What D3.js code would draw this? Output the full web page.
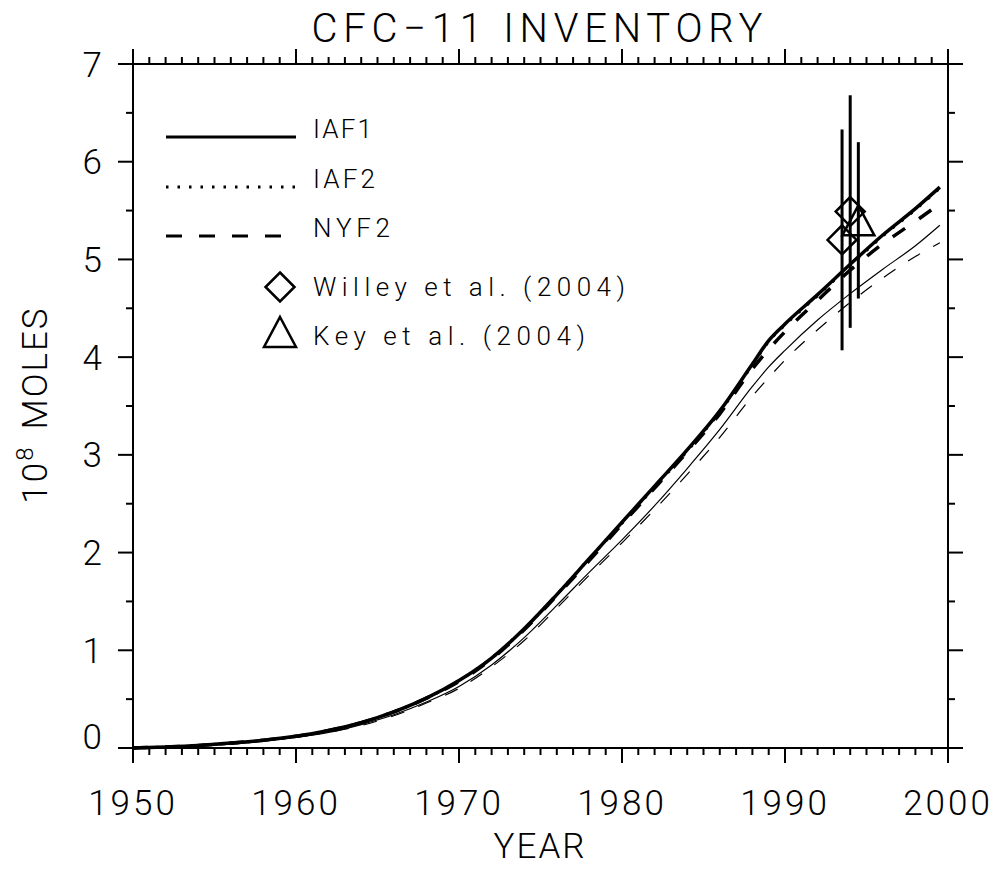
<!DOCTYPE html>
<html>
<head>
<meta charset="utf-8">
<script src="https://cdn.jsdelivr.net/npm/d3@7"></script>
<style>
  body { margin: 0; background: #fff; }
  svg text { font-family: Roboto, "Open Sans", sans-serif; font-weight: 300; fill: #000; }
</style>
</head>
<body>
<div id="vis"></div>
<script>
// model years
var years = [1950, 1952, 1954, 1956, 1958, 1960, 1962, 1964, 1966, 1968, 1970, 1972, 1974,
             1976, 1978, 1980, 1982, 1984, 1986, 1988, 1989, 1990, 1992, 1994, 1996, 1998, 1999.5];

// inventory, 10^8 moles
var iaf1 = [0.00, 0.01, 0.025, 0.05, 0.08, 0.12, 0.18, 0.26, 0.37, 0.51, 0.69, 0.92, 1.22,
            1.57, 1.94, 2.31, 2.68, 3.05, 3.45, 3.93, 4.17, 4.34, 4.64, 4.95, 5.25, 5.52, 5.74];
var iaf2 = [0.00, 0.01, 0.025, 0.05, 0.08, 0.12, 0.18, 0.26, 0.37, 0.51, 0.69, 0.92, 1.22,
            1.57, 1.94, 2.30, 2.67, 3.04, 3.44, 3.92, 4.16, 4.33, 4.63, 4.94, 5.24, 5.51, 5.73];
var nyf2 = [0.00, 0.01, 0.025, 0.05, 0.08, 0.12, 0.18, 0.26, 0.37, 0.51, 0.68, 0.91, 1.21,
            1.56, 1.92, 2.29, 2.66, 3.03, 3.42, 3.88, 4.08, 4.26, 4.58, 4.89, 5.16, 5.39, 5.57];
// thin curves (second set of runs)
var iaf1b = [0.00, 0.01, 0.02, 0.04, 0.07, 0.11, 0.16, 0.24, 0.34, 0.47, 0.63, 0.85, 1.13,
             1.46, 1.80, 2.13, 2.48, 2.86, 3.26, 3.70, 3.90, 4.07, 4.38, 4.65, 4.90, 5.14, 5.35];
var nyf2b = [0.00, 0.01, 0.02, 0.04, 0.07, 0.11, 0.16, 0.23, 0.33, 0.46, 0.61, 0.83, 1.10,
             1.43, 1.77, 2.10, 2.44, 2.80, 3.18, 3.60, 3.79, 3.97, 4.28, 4.56, 4.81, 5.03, 5.17];

// observations
var willeyYears = [1993.5, 1994.0];
var willeyValues = [5.20, 5.49];
var willeyErr = [1.13, 1.19];
var keyYears = [1994.5];
var keyValues = [5.40];
var keyErr = [0.80];

var xTicks = [1950, 1960, 1970, 1980, 1990, 2000];
var yTicks = [0, 1, 2, 3, 4, 5, 6, 7];

var W = 997, H = 869;
var margin = {top: 64, right: 49, bottom: 120, left: 133};

var svg = d3.select('#vis').append('svg')
    .attr('width', W)
    .attr('height', H);

var x = d3.scaleLinear().domain([1950, 2000]).range([margin.left, W - margin.right]);
var y = d3.scaleLinear().domain([0, 7]).range([H - margin.bottom - 1, margin.top]);

var x0 = x.range()[0], x1 = x.range()[1], y0 = y.range()[0], y1 = y.range()[1];

// frame
var axisW = 2;
svg.append('rect')
    .attr('x', x0).attr('y', y1)
    .attr('width', x1 - x0).attr('height', y0 - y1)
    .attr('fill', 'none').attr('stroke', '#000').attr('stroke-width', axisW);

// ticks on all four sides, pointing outward
var majLen = 15, minLen = 7;
var xMinor = d3.range(1950, 2001, 1);
var yMinor = d3.range(0, 7.01, 0.5);
var tk = svg.append('g').attr('stroke', '#000').attr('stroke-width', axisW);

xMinor.forEach(function(v) {
    var len = (v % 10 === 0) ? majLen : minLen;
    tk.append('line').attr('x1', x(v)).attr('x2', x(v)).attr('y1', y0).attr('y2', y0 + len);
    tk.append('line').attr('x1', x(v)).attr('x2', x(v)).attr('y1', y1).attr('y2', y1 - len);
});
yMinor.forEach(function(v) {
    var len = (v % 1 === 0) ? majLen : minLen;
    tk.append('line').attr('x1', x0).attr('x2', x0 - len).attr('y1', y(v)).attr('y2', y(v));
    tk.append('line').attr('x1', x1).attr('x2', x1 + len).attr('y1', y(v)).attr('y2', y(v));
});

// tick labels
svg.selectAll('.xlab').data(xTicks).enter().append('text')
    .attr('class', 'xlab')
    .attr('x', function(d) { return x(d); })
    .attr('y', y0 + 67)
    .attr('text-anchor', 'middle')
    .style('font-size', '35px')
    .style('letter-spacing', '3px')
    .text(function(d) { return d; });

svg.selectAll('.ylab').data(yTicks).enter().append('text')
    .attr('class', 'ylab')
    .attr('x', x0 - 31)
    .attr('y', function(d) { return Math.min(y(d), y0 - 12); })
    .attr('dy', '0.36em')
    .attr('text-anchor', 'end')
    .style('font-size', '35px')
    .text(function(d) { return d; });

// titles
svg.append('text')
    .attr('x', 537).attr('y', 42)
    .attr('text-anchor', 'middle')
    .attr('textLength', 451).attr('lengthAdjust', 'spacing')
    .style('font-size', '40px')
    .text('CFC\u221211 INVENTORY');

svg.append('text')
    .attr('x', 540).attr('y', 858)
    .attr('text-anchor', 'middle')
    .style('font-size', '35px')
    .style('letter-spacing', '2px')
    .text('YEAR');

var ytitle = svg.append('text')
    .attr('transform', 'translate(47,405) rotate(-90)')
    .attr('text-anchor', 'middle')
    .style('font-size', '35px')
    .style('letter-spacing', '2px');
ytitle.append('tspan').text('10');
ytitle.append('tspan').attr('dy', -14).style('font-size', '24px').text('8');
ytitle.append('tspan').attr('dy', 14).attr('dx', 16).text('MOLES');

// curves
var line = d3.line()
    .x(function(d) { return x(d[0]); })
    .y(function(d) { return y(d[1]); })
    .curve(d3.curveMonotoneX);

var series = [
    {vals: iaf1b, w: 1.2, dash: null},
    {vals: nyf2b, w: 1.2, dash: '14,15'},
    {vals: iaf1, w: 3.5, dash: null},
    {vals: iaf2, w: 3, dash: '2.5,9'},
    {vals: nyf2, w: 3.5, dash: '15,17'}
];
series.forEach(function(s) {
    svg.append('path')
        .datum(years.map(function(yr, i) { return [yr, s.vals[i]]; }))
        .attr('d', line)
        .attr('fill', 'none')
        .attr('stroke', '#000')
        .attr('stroke-width', s.w)
        .attr('stroke-dasharray', s.dash);
});

// observations with error bars
function errBars(ys, vs, es) {
    ys.forEach(function(yr, i) {
        svg.append('line')
            .attr('x1', x(yr)).attr('x2', x(yr))
            .attr('y1', y(vs[i] - es[i])).attr('y2', y(vs[i] + es[i]))
            .attr('stroke', '#000').attr('stroke-width', 3);
    });
}
errBars(willeyYears, willeyValues, willeyErr);
errBars(keyYears, keyValues, keyErr);

function diamond(cx, cy) {
    return 'M' + cx + ',' + (cy - 14.5) + 'L' + (cx + 14.5) + ',' + cy +
           'L' + cx + ',' + (cy + 14.5) + 'L' + (cx - 14.5) + ',' + cy + 'Z';
}
function triangle(cx, cy) {
    return 'M' + cx + ',' + (cy - 15) + 'L' + (cx + 16) + ',' + (cy + 15) +
           'L' + (cx - 16) + ',' + (cy + 15) + 'Z';
}
willeyYears.forEach(function(yr, i) {
    svg.append('path').attr('d', diamond(x(yr), y(willeyValues[i])))
        .attr('fill', 'none').attr('stroke', '#000').attr('stroke-width', 2.5);
});
keyYears.forEach(function(yr, i) {
    svg.append('path').attr('d', triangle(x(yr), y(keyValues[i])))
        .attr('fill', 'none').attr('stroke', '#000').attr('stroke-width', 2.5);
});

// legend
var legend = svg.append('g');
var legLines = [
    {name: 'IAF1', y: 137, len: 59, dash: null},
    {name: 'IAF2', y: 187, len: 62, dash: '2.5,9'},
    {name: 'NYF2', y: 236, len: 77, dash: '16,17'}
];
legLines.forEach(function(d) {
    legend.append('line')
        .attr('x1', 166).attr('x2', 296).attr('y1', d.y).attr('y2', d.y)
        .attr('stroke', '#000').attr('stroke-width', 3)
        .attr('stroke-dasharray', d.dash);
    legend.append('text')
        .attr('x', 313).attr('y', d.y + 1)
        .attr('textLength', d.len).attr('lengthAdjust', 'spacing')
        .style('font-size', '26px')
        .text(d.name);
});
legend.append('path').attr('d', diamond(280, 287))
    .attr('fill', 'none').attr('stroke', '#000').attr('stroke-width', 2.5);
legend.append('text')
    .attr('x', 313).attr('y', 296)
    .attr('textLength', 312).attr('lengthAdjust', 'spacing')
    .style('font-size', '26px')
    .text('Willey et al. (2004)');
legend.append('path').attr('d', triangle(280, 332))
    .attr('fill', 'none').attr('stroke', '#000').attr('stroke-width', 2.5);
legend.append('text')
    .attr('x', 313).attr('y', 345)
    .attr('textLength', 272).attr('lengthAdjust', 'spacing')
    .style('font-size', '26px')
    .text('Key et al. (2004)');
</script>
</body>
</html>
